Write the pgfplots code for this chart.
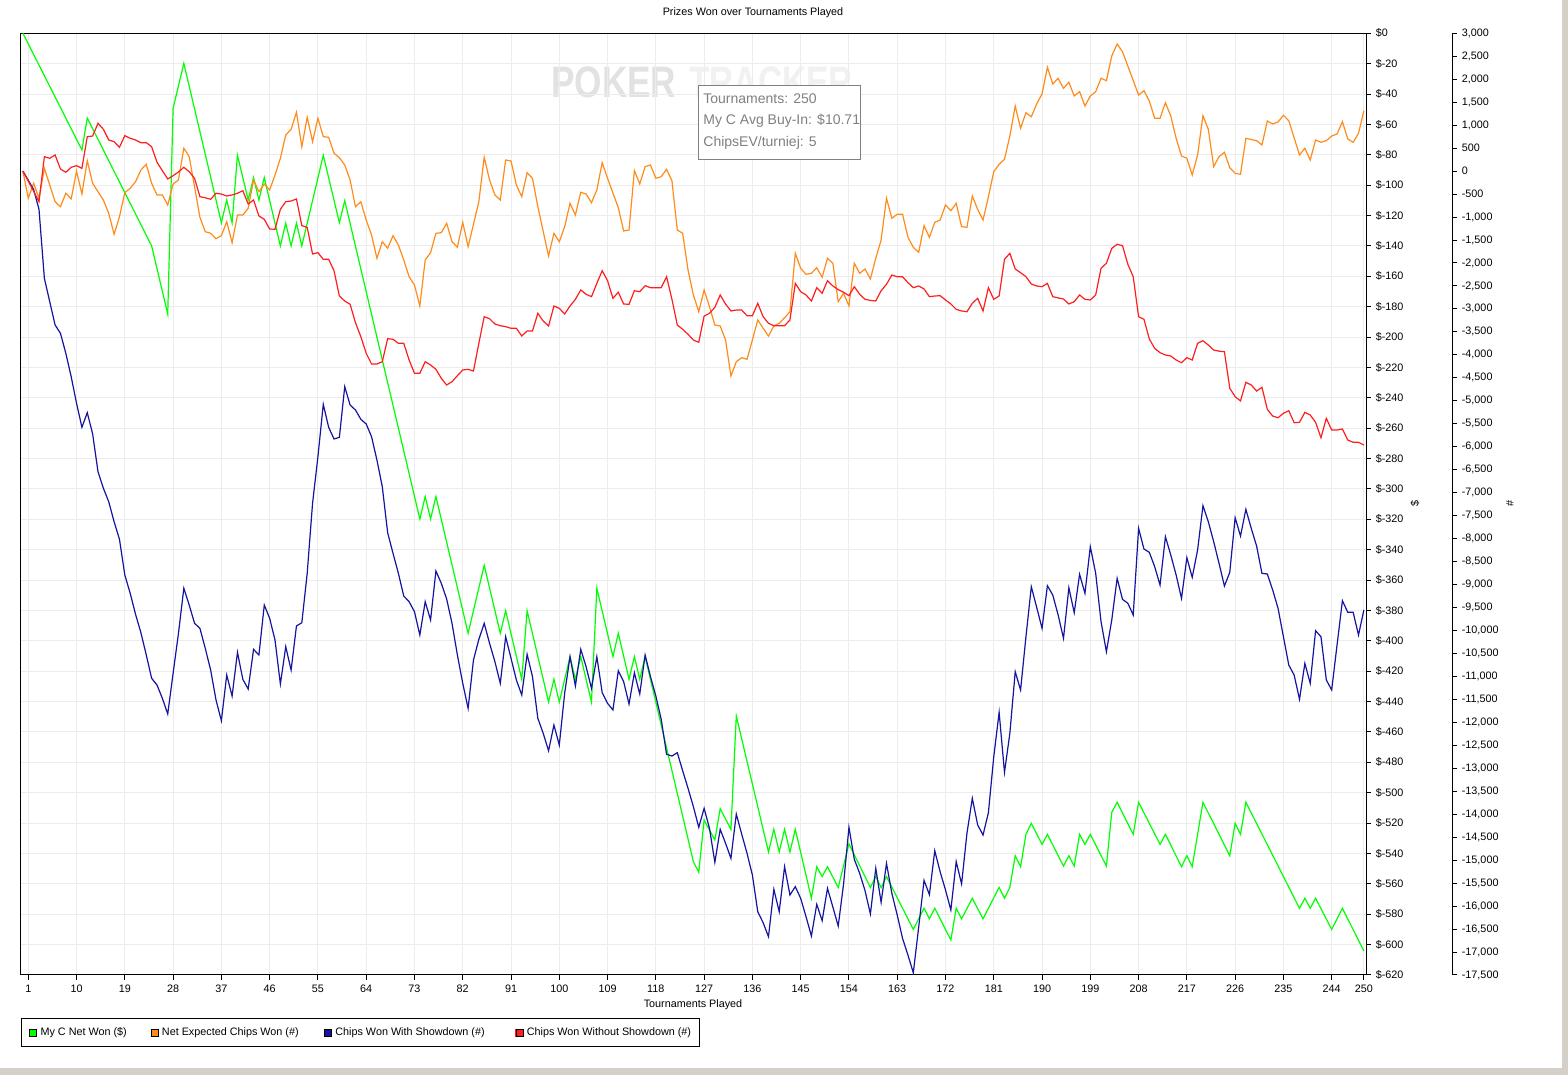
\documentclass[border=0pt]{standalone}
\usepackage{fontspec}
\setmainfont{Liberation Sans}
\usepackage{pgfplots}
\pgfplotsset{compat=1.18}
\definecolor{cgreen}{RGB}{0,255,0}
\definecolor{corange}{RGB}{255,140,26}
\definecolor{cblue}{RGB}{20,20,160}
\definecolor{cred}{RGB}{255,30,30}
\definecolor{cgrid}{RGB}{236,236,236}
\definecolor{cwin}{RGB}{212,208,200}
\definecolor{ctip}{RGB}{128,128,128}
\definecolor{cwm1}{RGB}{226,226,226}
\definecolor{cwm2}{RGB}{241,241,241}
\newcommand{\sm}{\fontsize{5.4}{6.5}\selectfont}
\begin{document}
\begin{tikzpicture}
\useasboundingbox (0pt,0pt) rectangle (784pt,537.5pt);
\fill[white] (0pt,0pt) rectangle (784pt,537.5pt);
\fill[cwin] (781pt,0pt) rectangle (784pt,537.5pt);
\fill[cwin] (0pt,0pt) rectangle (784pt,3.5pt);
% watermark
\node[text=cwm1,font=\fontsize{22}{24}\selectfont\bfseries,xscale=0.8,anchor=east] at (341pt,496.5pt) {POKER};
\node[text=cwm2,font=\fontsize{22}{24}\selectfont\bfseries,xscale=0.76,anchor=west] at (342pt,496.5pt) {TRACKER};
% axis 1: dollars
\begin{axis}[
  at={(10.25pt,50pt)}, anchor=south west,
  width=672.75pt, height=470.85pt, scale only axis,
  xmin=-0.45, xmax=250.4, ymin=-620, ymax=0,
  xtick={1,10,...,244,250}, ytick={-620,-600,...,0},
  scaled ticks=false,
  xtick pos=left, ytick pos=right, yticklabel pos=right,
  tick align=outside, major tick length=2.4pt,
  tick style={black,line width=0.5pt},
  axis line style={black,line width=0.5pt},
  grid=major, major grid style={cgrid,line width=0.5pt},
  /pgf/number format/assume math mode=true,
  tick label style={font=\sm},
  xticklabel style={yshift=1pt},
  yticklabel style={xshift=-1pt},
  yticklabel={\$\pgfmathprintnumber[fixed,precision=0]{\tick}},
  xticklabel={\pgfmathprintnumber[fixed,precision=0]{\tick}},
]
\addplot[cgreen,line width=0.6pt] coordinates {(0,0)(11,-76.8)(12,-55.8)(24,-140)(27,-184.8)(28,-49.4)(30,-19.8)(37,-124.7)(38,-109.8)(39,-124.7)(40,-80.3)(42,-109.8)(43,-95)(44,-109.8)(45,-95)(48,-140)(49,-125)(50,-140)(51,-125)(52,-140)(56,-80.3)(59,-124.7)(60,-110.2)(74,-319.8)(75,-305)(76,-319.8)(77,-305)(83,-395)(86,-350.3)(89,-395)(90,-380.2)(93,-425.3)(94,-380.2)(98,-440.3)(99,-425.3)(100,-440.3)(102,-410.4)(103,-425.3)(104,-410.4)(106,-440.3)(107,-365.4)(110,-410.4)(111,-395)(113,-425.3)(114,-410.4)(115,-425.3)(116,-410.4)(125,-545.4)(126,-552.4)(127,-518)(129,-531.1)(130,-510.5)(132,-524.1)(133,-449.5)(139,-539)(140,-524.1)(141,-539)(142,-524.1)(143,-539)(144,-524.1)(147,-569.5)(148,-548.7)(149,-555.2)(150,-548.7)(152,-562.4)(154,-533.7)(158,-562.4)(159,-555.2)(160,-562.4)(161,-555.2)(166,-590)(168,-576)(169,-583)(170,-576)(173,-597)(174,-576)(175,-583)(177,-569.5)(179,-583)(182,-562.3)(183,-569.5)(184,-562.3)(185,-541.5)(186,-548.7)(187,-527.4)(188,-520.1)(190,-534)(191,-527.4)(194,-548.3)(195,-541.5)(196,-548.3)(197,-527.4)(198,-534)(199,-527.4)(202,-548.3)(203,-512.9)(204,-506.3)(207,-527.4)(208,-506.3)(212,-534)(213,-527.4)(216,-548.7)(217,-541.5)(218,-548.7)(220,-506.3)(225,-541.5)(226,-520.1)(227,-527.4)(228,-506.3)(238,-576.1)(239,-569.5)(240,-576.1)(241,-569.5)(244,-590)(246,-576.1)(250,-604.2)};
\end{axis}
% axis 2: chips
\begin{axis}[
  at={(10.25pt,50pt)}, anchor=south west,
  width=672.75pt, height=470.85pt, scale only axis,
  xmin=-0.45, xmax=250.4, ymin=-17500, ymax=3000,
  axis x line=none, axis y line*=right,
  ytick={-17500,-17000,...,3000},
  scaled ticks=false, scaled y ticks=false,
  tick align=outside, major tick length=2.4pt,
  tick style={black,line width=0.5pt},
  y axis line style={black,line width=0.5pt,xshift=43pt,-},
  ytick style={xshift=43pt},
  yticklabel style={xshift=42pt},
  /pgf/number format/assume math mode=true,
  tick label style={font=\sm},
  yticklabel={\pgfmathprintnumber[fixed,precision=0,1000 sep={,}]{\tick}},
  legend style={at={(0,-0.0457)}, anchor=north west, draw=black, line width=0.5pt,
    font=\sm, legend columns=4, inner xsep=4.2pt, inner ysep=4.3pt,
    nodes={inner sep=0pt},
    /tikz/every odd column/.append style={column sep=1.6pt}},
  legend cell align=left,
  legend image code/.code={\fill[#1] (0pt,-1.75pt) rectangle (3.5pt,1.75pt); \draw[black,line width=0.4pt] (0pt,-1.75pt) rectangle (3.5pt,1.75pt);},
]
\addlegendimage{cgreen}
\addlegendentry{\makebox[55pt][l]{My C Net Won (\$)}}
\addplot[corange,line width=0.6pt] coordinates {(0,0)(1,-592)(2,-265)(3,-592)(4,61)(6,-666)(7,-775)(8,-483)(9,-607)(10,0)(11,-498)(12,226)(13,-265)(14,-450)(15,-629)(16,-919)(17,-1376)(18,-993)(19,-470)(20,-374)(21,-231)(22,24)(23,148)(24,-265)(25,-520)(26,-520)(27,-738)(28,-281)(29,-194)(30,497)(31,314)(32,-339)(33,-1006)(34,-1319)(35,-1354)(36,-1471)(37,-1406)(38,-1101)(39,-1559)(40,-956)(41,-956)(42,-810)(43,-194)(44,-448)(45,-281)(46,-411)(47,-85)(48,279)(49,786)(50,910)(51,1280)(52,531)(53,1171)(54,640)(55,1150)(56,749)(57,736)(58,388)(59,292)(60,133)(61,-194)(62,-775)(63,-666)(64,-1065)(65,-1391)(66,-1898)(67,-1537)(68,-1680)(69,-1406)(70,-1609)(71,-1935)(72,-2299)(73,-2480)(74,-2937)(75,-1935)(76,-1776)(77,-1354)(78,-1341)(79,-1136)(80,-1537)(81,-1659)(82,-1115)(83,-1646)(85,-666)(86,300)(87,-194)(88,-520)(89,-629)(90,242)(91,220)(92,-303)(93,-557)(94,-35)(95,-157)(96,-775)(98,-1848)(99,-1354)(100,-1537)(101,-1210)(102,-701)(103,-956)(104,-461)(105,-498)(106,-688)(107,-411)(108,183)(109,-157)(111,-797)(112,-1304)(113,-1282)(114,9)(115,-281)(116,96)(117,133)(118,-157)(119,-122)(120,39)(121,-209)(122,-1282)(123,-1354)(124,-2153)(125,-2697)(126,-3061)(127,-2588)(128,-2952)(129,-3350)(130,-3372)(131,-3677)(132,-4460)(133,-4149)(134,-4062)(135,-4097)(136,-3677)(137,-3241)(138,-3422)(139,-3590)(140,-3372)(141,-3313)(142,-3191)(143,-3061)(144,-1789)(145,-2116)(146,-2247)(147,-2225)(148,-2103)(149,-2312)(150,-1898)(151,-2007)(152,-2843)(153,-2660)(154,-2937)(155,-2007)(156,-2225)(157,-2131)(158,-2349)(159,-1898)(160,-1500)(161,-592)(162,-1027)(163,-940)(164,-940)(165,-1441)(166,-1659)(167,-1768)(168,-1188)(169,-1441)(170,-1115)(171,-1065)(172,-738)(173,-862)(174,-701)(175,-1210)(176,-1224)(177,-542)(178,-832)(179,-1065)(180,-557)(181,-13)(182,148)(183,257)(184,764)(185,1417)(186,932)(187,1272)(188,1184)(189,1461)(190,1679)(191,2260)(192,1896)(193,2020)(194,1803)(195,1933)(196,1635)(197,1729)(198,1417)(199,1635)(200,1729)(201,2020)(202,1968)(203,2506)(204,2767)(205,2600)(208,1657)(209,1750)(210,1526)(211,1150)(212,1150)(213,1489)(214,1200)(215,714)(216,329)(217,279)(218,-85)(219,351)(220,1206)(221,910)(222,96)(223,314)(224,409)(225,74)(226,-48)(227,-70)(228,714)(230,662)(231,568)(232,1091)(233,1026)(234,1069)(235,1215)(236,1097)(238,351)(239,497)(240,242)(241,677)(242,627)(243,662)(244,764)(245,808)(246,1076)(247,699)(248,627)(249,823)(250,1315)};
\addlegendentry{\makebox[81pt][l]{Net Expected Chips Won (\#)}}
\addplot[cblue,line width=0.6pt] coordinates {(0,0)(1,-200)(2,-400)(3,-832)(4,-2334)(5,-2843)(6,-3350)(7,-3531)(8,-3966)(9,-4476)(10,-5055)(11,-5577)(12,-5259)(13,-5723)(14,-6544)(15,-6905)(16,-7197)(17,-7632)(18,-8015)(19,-8793)(20,-9191)(21,-9648)(22,-10049)(23,-10534)(24,-11042)(25,-11187)(26,-11477)(27,-11818)(28,-10933)(29,-10062)(30,-9082)(31,-9446)(32,-9844)(33,-9953)(34,-10389)(35,-10861)(36,-11514)(37,-11964)(38,-10970)(39,-11427)(40,-10476)(41,-11064)(42,-11275)(43,-10411)(44,-10534)(45,-9446)(46,-9735)(47,-10208)(48,-11166)(49,-10353)(50,-10861)(51,-9902)(52,-9831)(53,-8756)(54,-7232)(55,-6217)(56,-5077)(57,-5577)(58,-5832)(59,-5795)(60,-4693)(61,-5092)(62,-5201)(63,-5403)(64,-5505)(65,-5782)(66,-6289)(67,-6870)(68,-7872)(69,-8320)(70,-8756)(71,-9250)(72,-9374)(73,-9591)(74,-10099)(75,-9374)(76,-9772)(77,-8706)(78,-8973)(79,-9315)(80,-9845)(81,-10534)(82,-11151)(83,-11695)(84,-10643)(85,-10193)(86,-9845)(87,-10280)(88,-10680)(89,-11151)(90,-10135)(91,-10606)(92,-11078)(93,-11405)(94,-10519)(95,-11006)(96,-11912)(97,-12239)(98,-12618)(99,-12059)(100,-12494)(101,-11368)(102,-10571)(103,-11209)(104,-10411)(105,-10790)(106,-11260)(107,-10571)(108,-11355)(109,-11586)(110,-11731)(111,-10876)(112,-11115)(113,-11601)(114,-10920)(115,-11384)(116,-10534)(117,-11006)(118,-11427)(119,-11934)(120,-12696)(121,-12733)(122,-12661)(123,-13054)(124,-13436)(125,-13836)(126,-14285)(127,-13872)(128,-14307)(129,-15047)(130,-14329)(131,-14634)(132,-14960)(133,-13996)(134,-14431)(135,-14851)(136,-15324)(137,-16122)(138,-16361)(139,-16666)(140,-15635)(141,-16122)(142,-15142)(143,-15758)(144,-15577)(145,-15831)(146,-16231)(147,-16651)(148,-15961)(149,-16318)(150,-15613)(151,-16020)(152,-16434)(153,-15519)(154,-14285)(155,-14982)(156,-15287)(157,-15664)(158,-16172)(159,-15178)(160,-15918)(161,-15070)(162,-15722)(163,-16195)(164,-16704)(165,-17067)(166,-17451)(167,-16463)(168,-15440)(169,-15751)(170,-14795)(171,-15252)(172,-15649)(173,-16085)(174,-15032)(175,-15518)(176,-14416)(177,-13654)(178,-14235)(179,-14453)(180,-13967)(181,-12748)(182,-11782)(183,-13088)(184,-12239)(185,-10898)(186,-11296)(187,-10136)(188,-9048)(189,-9496)(190,-9953)(191,-9026)(192,-9228)(193,-9663)(194,-10171)(195,-9069)(196,-9613)(197,-8778)(198,-9191)(199,-8176)(200,-8756)(201,-9809)(202,-10462)(203,-9772)(204,-8865)(205,-9322)(206,-9409)(207,-9663)(208,-7776)(209,-8227)(210,-8299)(211,-8612)(212,-9011)(213,-7959)(214,-8357)(215,-8793)(216,-9300)(217,-8416)(218,-8843)(219,-8249)(220,-7284)(221,-7632)(222,-8067)(223,-8538)(224,-9032)(225,-8734)(226,-7545)(227,-7944)(228,-7363)(229,-7776)(230,-8161)(231,-8756)(232,-8771)(233,-9119)(234,-9518)(235,-10136)(236,-10752)(237,-10970)(238,-11499)(239,-10716)(240,-11151)(241,-10005)(242,-10136)(243,-11078)(244,-11296)(245,-10316)(246,-9352)(247,-9605)(248,-9605)(249,-10099)(250,-9555)};
\addlegendentry{\makebox[90pt][l]{Chips Won With Showdown (\#)}}
\addplot[cred,line width=0.6pt] coordinates {(0,0)(1,-220)(2,-440)(3,-666)(4,314)(5,279)(6,351)(7,46)(8,-26)(9,83)(10,118)(11,61)(12,749)(13,764)(14,1041)(15,910)(16,677)(17,640)(18,518)(19,771)(20,714)(21,677)(22,618)(23,618)(24,531)(25,192)(26,9)(27,-172)(28,-100)(29,-20)(30,83)(31,-13)(32,-157)(33,-557)(34,-580)(35,-614)(36,-483)(37,-500)(38,-542)(39,-520)(40,-483)(41,-426)(42,-716)(43,-629)(44,-977)(45,-1049)(46,-1260)(47,-1267)(48,-832)(49,-666)(50,-651)(51,-607)(52,-1188)(53,-1224)(54,-1805)(55,-1776)(56,-1920)(57,-1920)(58,-2168)(59,-2719)(60,-2828)(61,-2900)(62,-3300)(63,-3605)(64,-3966)(65,-4199)(66,-4199)(67,-4149)(68,-3648)(69,-3662)(70,-3749)(71,-3749)(72,-4112)(73,-4402)(74,-4402)(75,-4149)(76,-4221)(77,-4315)(78,-4511)(79,-4656)(80,-4585)(81,-4454)(82,-4330)(83,-4315)(84,-4352)(85,-3749)(86,-3170)(87,-3213)(88,-3329)(89,-3366)(90,-3387)(91,-3422)(92,-3422)(93,-3590)(94,-3481)(95,-3481)(96,-3096)(97,-3263)(98,-3372)(99,-2937)(100,-2987)(101,-3111)(102,-2937)(103,-2791)(104,-2588)(105,-2682)(106,-2734)(107,-2443)(108,-2168)(109,-2386)(110,-2769)(111,-2638)(112,-2893)(113,-2900)(114,-2604)(115,-2625)(116,-2495)(117,-2538)(118,-2538)(119,-2538)(120,-2299)(121,-2791)(122,-3350)(123,-3444)(124,-3553)(125,-3677)(126,-3727)(127,-3155)(128,-3096)(129,-2965)(130,-2697)(131,-2893)(132,-3045)(133,-3024)(134,-3024)(135,-3148)(136,-3148)(137,-2878)(138,-3170)(139,-3313)(140,-3366)(141,-3366)(142,-3366)(143,-3241)(144,-2443)(145,-2625)(146,-2697)(147,-2828)(148,-2538)(149,-2660)(150,-2386)(151,-2501)(152,-2580)(153,-2638)(154,-2712)(155,-2516)(156,-2682)(157,-2791)(158,-2815)(159,-2828)(160,-2604)(161,-2464)(162,-2262)(163,-2299)(164,-2299)(165,-2429)(166,-2538)(167,-2501)(168,-2566)(169,-2734)(170,-2719)(171,-2712)(172,-2806)(173,-2893)(174,-3009)(175,-3045)(176,-3061)(177,-2878)(178,-2769)(179,-3045)(180,-2538)(181,-2791)(182,-2719)(183,-1920)(184,-1789)(185,-2131)(186,-2212)(187,-2299)(188,-2458)(189,-2500)(190,-2516)(191,-2443)(192,-2734)(193,-2760)(194,-2784)(195,-2893)(196,-2843)(197,-2697)(198,-2791)(199,-2806)(200,-2697)(201,-2116)(202,-2007)(203,-1681)(204,-1593)(205,-1624)(206,-2029)(207,-2299)(208,-3170)(209,-3226)(210,-3655)(211,-3858)(212,-3953)(213,-4003)(214,-4025)(215,-4112)(216,-4171)(217,-4062)(218,-4112)(219,-3749)(220,-3692)(221,-3786)(222,-3895)(223,-3920)(224,-3931)(225,-4728)(226,-4911)(227,-5004)(228,-4598)(229,-4656)(230,-4787)(231,-4707)(232,-5186)(233,-5332)(234,-5369)(235,-5273)(236,-5216)(237,-5477)(238,-5469)(239,-5251)(240,-5310)(241,-5469)(242,-5804)(243,-5382)(244,-5636)(245,-5636)(246,-5615)(247,-5854)(248,-5904)(249,-5904)(250,-5963)};
\addlegendentry{Chips Won Without Showdown (\#)}
\end{axis}
% texts
\node[font=\sm] at (376.5pt,531pt) {Prizes Won over Tournaments Played};
\node[font=\sm] at (346.5pt,35pt) {Tournaments Played};
\node[font=\sm,rotate=90] at (707.5pt,285.5pt) {\$};
\node[font=\sm,rotate=90] at (755pt,285.5pt) {\#};
% info box
\draw[ctip,fill=white,line width=0.5pt] (349pt,494.5pt) rectangle (430pt,457.5pt);
\node[text=ctip,font=\fontsize{7}{8}\selectfont,anchor=west,inner sep=0pt] at (351.5pt,488pt) {Tournaments: 250};
\node[text=ctip,font=\fontsize{7}{8}\selectfont,anchor=west,inner sep=0pt] at (351.5pt,477pt) {My C Avg Buy-In: \$10.71};
\node[text=ctip,font=\fontsize{7}{8}\selectfont,anchor=west,inner sep=0pt] at (351.5pt,466pt) {ChipsEV/turniej: 5};
\end{tikzpicture}
\end{document}
